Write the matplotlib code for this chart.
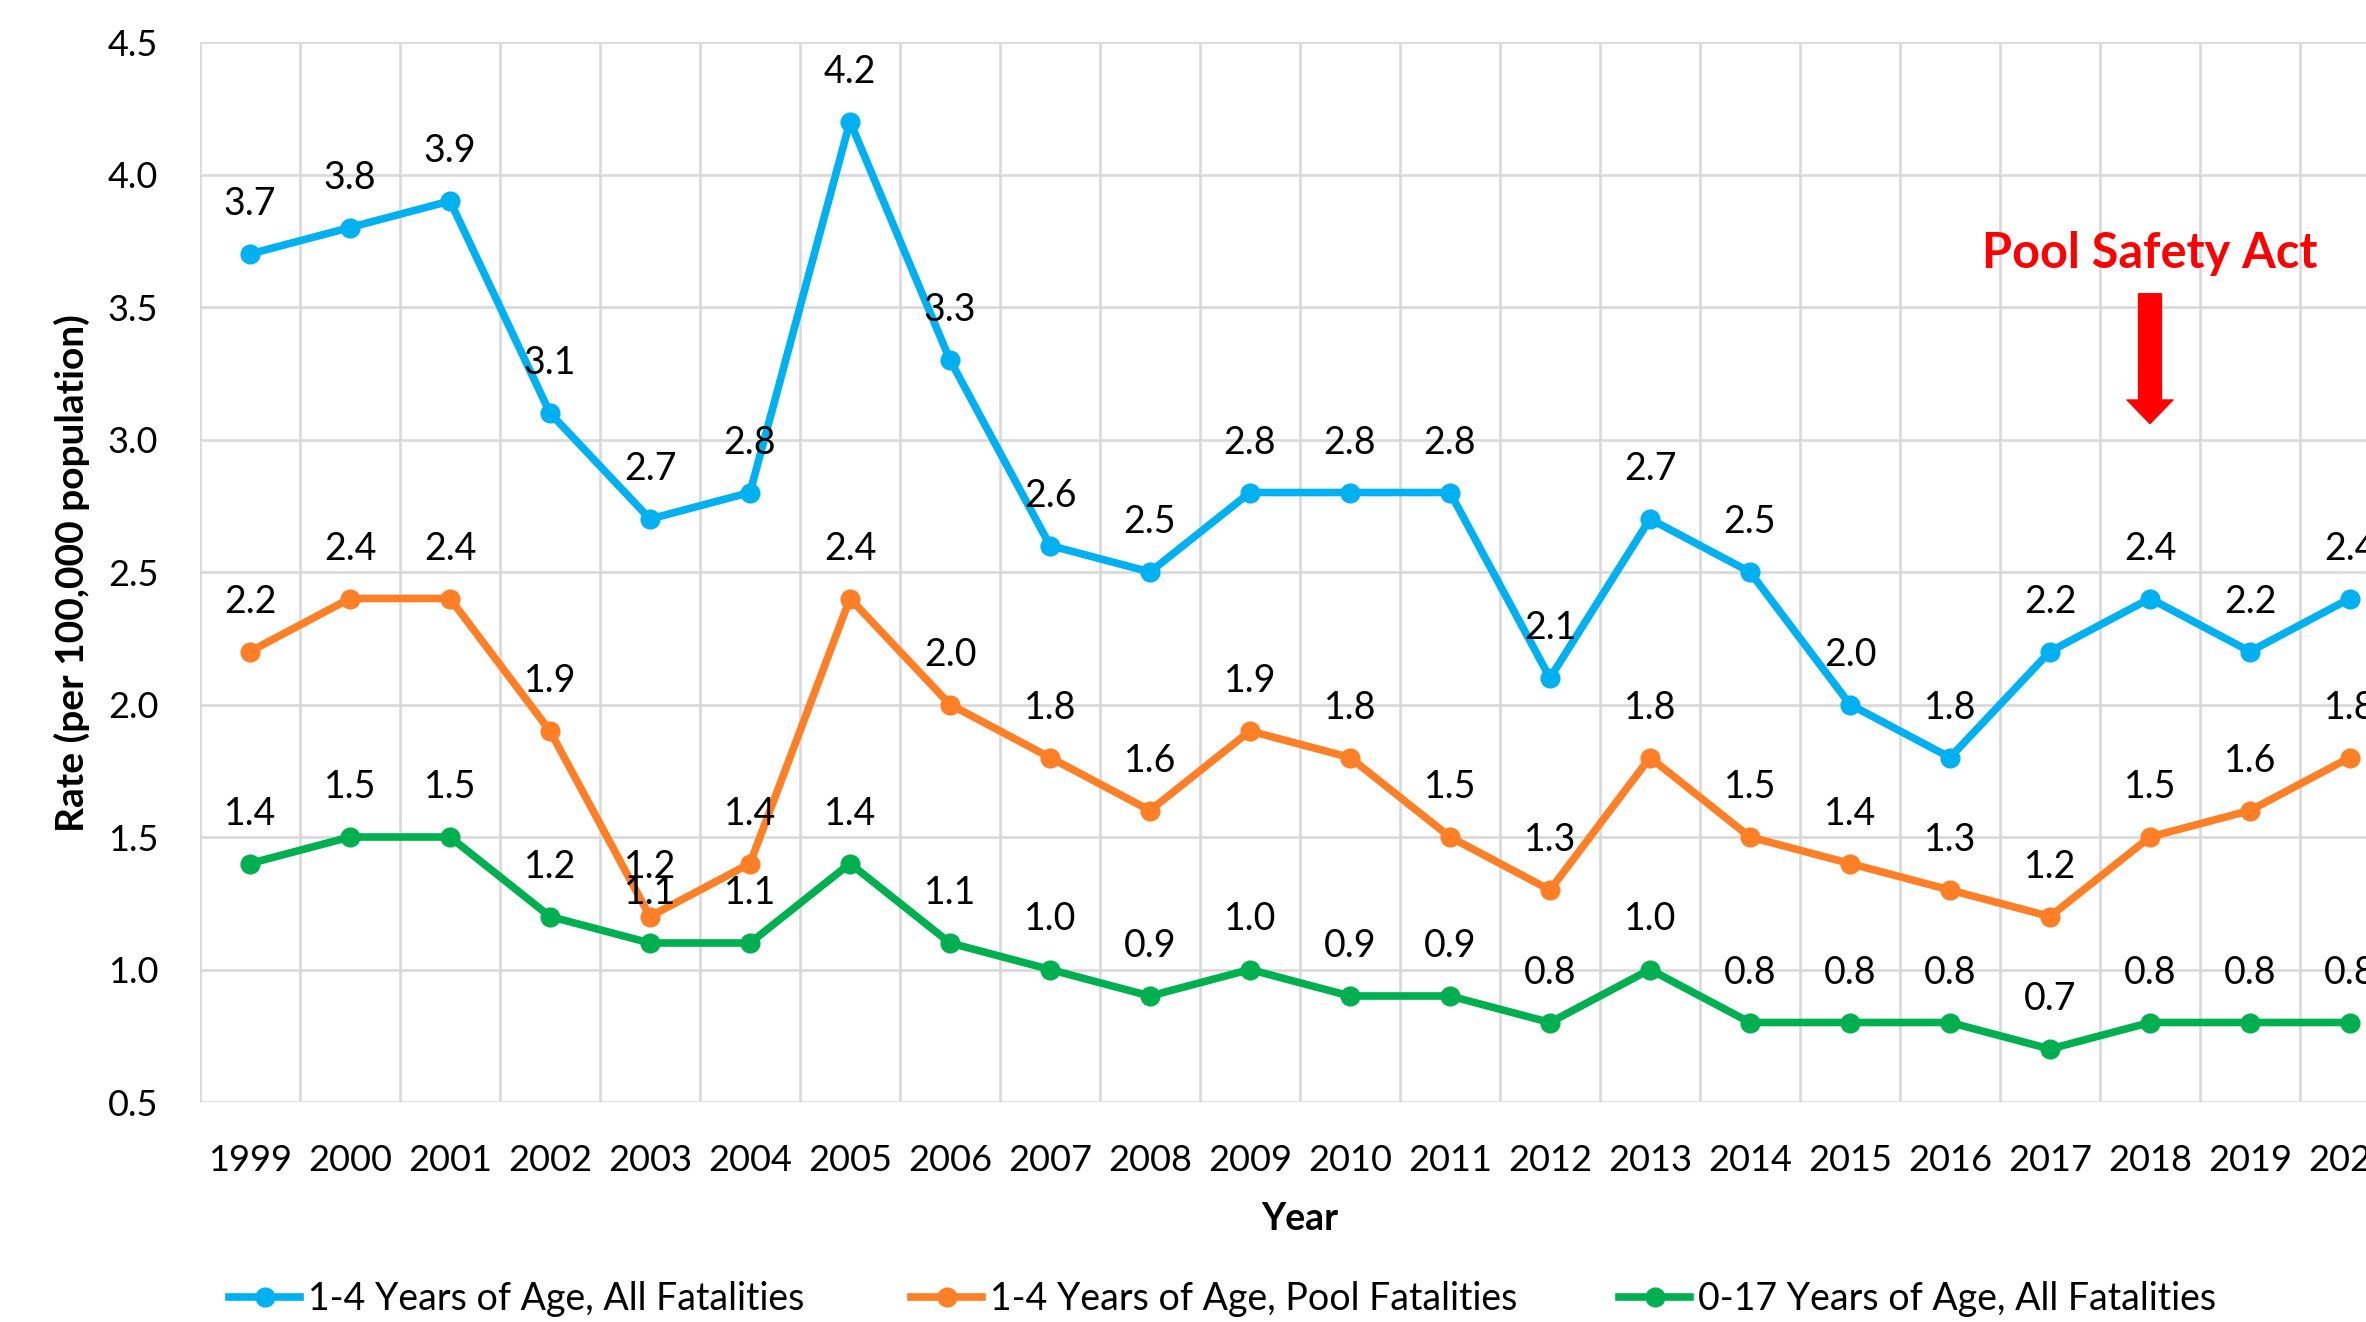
import matplotlib
matplotlib.use("Agg")
import matplotlib.pyplot as plt
import numpy as np
from matplotlib.patches import FancyArrowPatch

plt.rcParams['font.family'] = ['Lato', 'DejaVu Sans']

# data
years = ['1999', '2000', '2001', '2002', '2003', '2004', '2005', '2006', '2007',
         '2008', '2009', '2010', '2011', '2012', '2013', '2014', '2015', '2016',
         '2017', '2018', '2019', '2020']
all_1_4 = [3.7, 3.8, 3.9, 3.1, 2.7, 2.8, 4.2, 3.3, 2.6, 2.5, 2.8, 2.8, 2.8,
           2.1, 2.7, 2.5, 2.0, 1.8, 2.2, 2.4, 2.2, 2.4]
pool_1_4 = [2.2, 2.4, 2.4, 1.9, 1.2, 1.4, 2.4, 2.0, 1.8, 1.6, 1.9, 1.8, 1.5,
            1.3, 1.8, 1.5, 1.4, 1.3, 1.2, 1.5, 1.6, 1.8]
all_0_17 = [1.4, 1.5, 1.5, 1.2, 1.1, 1.1, 1.4, 1.1, 1.0, 0.9, 1.0, 0.9, 0.9,
            0.8, 1.0, 0.8, 0.8, 0.8, 0.7, 0.8, 0.8, 0.8]
series_labels = ['1-4 Years of Age, All Fatalities',
                 '1-4 Years of Age, Pool Fatalities',
                 '0-17 Years of Age, All Fatalities']
colors = ['#00B0F0', '#FF7F27', '#00B050']
act_year = '2018'

W, H = 2366, 1322
fig = plt.figure(figsize=(W / 100, H / 100), dpi=100)
# axes runs past the right edge, like the cropped original
ax = fig.add_axes([200 / W, 220 / H, 2200 / W, 1060 / H])

x = np.arange(len(years))
grid_c = '#D9D9D9'
fs = 26

ax.set_xlim(-0.5, len(years) - 0.5)
ax.set_ylim(0.5, 4.5)
yt = np.arange(0.5, 4.51, 0.5)
ax.set_yticks(yt, labels=[f'{v:.1f}' for v in yt])
ax.set_xticks(x, labels=years)
ax.set_xticks(np.arange(-0.5, len(years)), minor=True)
ax.grid(axis='x', which='minor', color=grid_c, lw=1.9)
ax.grid(axis='y', which='major', color=grid_c, lw=1.9)
ax.grid(axis='x', which='major', visible=False)
ax.tick_params(which='both', length=0, labelsize=fs)
ax.tick_params(axis='x', pad=30)
ax.tick_params(axis='y', pad=30)
for s in ax.spines.values():
    s.set_visible(False)
ax.set_axisbelow(True)

handles = []
for vals, lab, c in zip([all_1_4, pool_1_4, all_0_17], series_labels, colors):
    ln, = ax.plot(x, vals, '-o', color=c, lw=5.5, ms=13.5, label=lab,
                  clip_on=False, zorder=3)
    handles.append(ln)
    for xi, v in zip(x, vals):
        ax.annotate(f'{v:.1f}', (xi, v), xytext=(0, 36),
                    textcoords='offset points', ha='center', va='center',
                    fontsize=27, color='black', zorder=4)

ax.set_xlabel('Year', fontsize=27, fontweight='bold', labelpad=18)
fig.text(72 / W, 1 - 573 / H, 'Rate (per 100,000 population)', rotation=90,
         ha='center', va='center', fontsize=28, fontweight='bold')

# Pool Safety Act annotation
xa = years.index(act_year)
ax.text(xa, 3.70, 'Pool Safety Act', color='#FF0000', fontsize=35,
        fontweight='bold', ha='center', va='center')
arr = FancyArrowPatch((xa, 3.55), (xa, 3.06),
                      arrowstyle='simple,head_length=17,head_width=33,tail_width=16.5',
                      mutation_scale=1, color='#FF0000', shrinkA=0, shrinkB=0)
ax.add_patch(arr)

# legend, one entry per block placed like the original
leg_x = [229, 911, 1619]
for h, lx in zip(handles, leg_x):
    fig.legend([h], [h.get_label()], loc='center left',
               bbox_to_anchor=(lx / W, 23 / H), frameon=False,
               fontsize=27, handlelength=1.9, handletextpad=0.2,
               borderpad=0, borderaxespad=0)

fig.savefig('out.png', dpi=100)
